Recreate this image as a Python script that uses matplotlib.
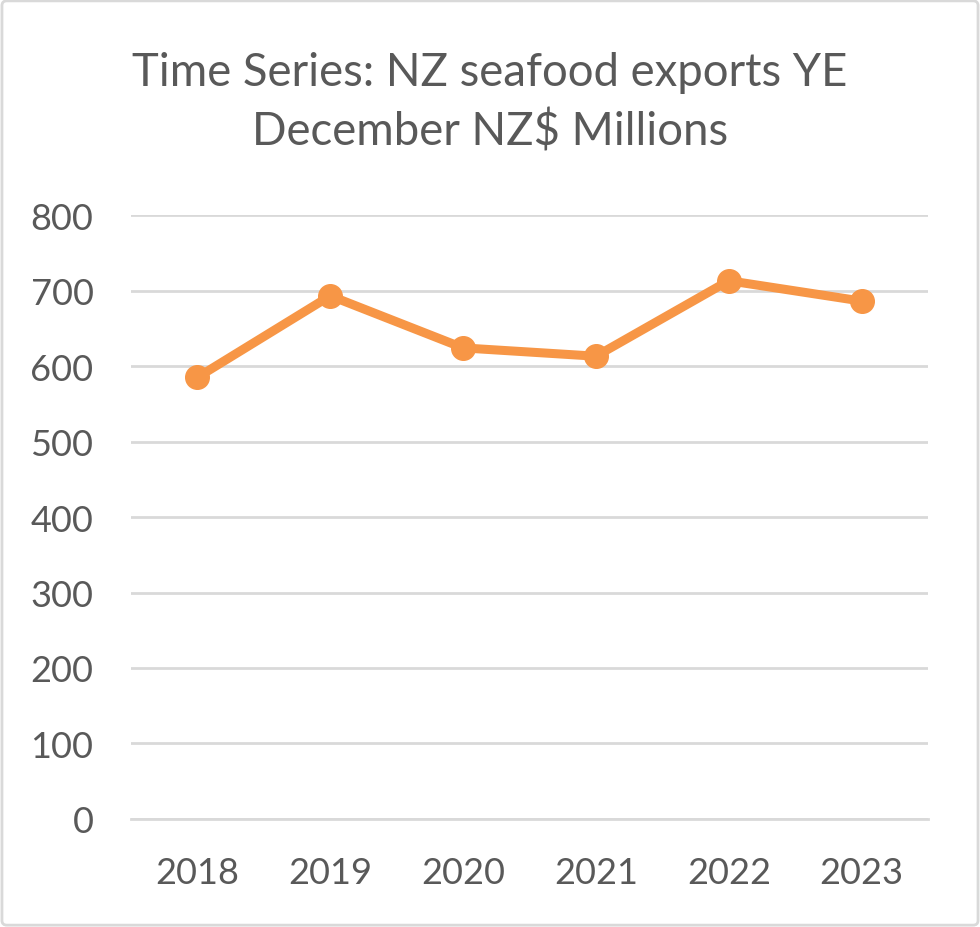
import matplotlib
matplotlib.use('Agg')
import matplotlib.pyplot as plt
from matplotlib.patches import FancyBboxPatch

# Datos del gráfico
years = ['2018', '2019', '2020', '2021', '2022', '2023']
exports = [585, 693, 624, 613, 713, 686]
y_ticks = [0, 100, 200, 300, 400, 500, 600, 700, 800]

plt.rcParams['font.family'] = ['Lato', 'DejaVu Sans']

gris_texto = '#595959'
gris_linea = '#d9d9d9'
naranja = '#f79646'

fig = plt.figure(figsize=(9.8, 9.28), dpi=100)
ax = fig.add_axes([0.1337, 0.1164, 0.947 - 0.1337, 0.7672 - 0.1164])

x = list(range(len(years)))
ax.plot(x, exports, color=naranja, linewidth=6.5, marker='o', markersize=17,
        solid_capstyle='round', solid_joinstyle='round', zorder=3)

ax.set_xlim(-0.5, len(years) - 0.5)
ax.set_ylim(0, 800)
ax.set_yticks(y_ticks)
ax.set_xticks(x)
ax.set_xticklabels(years)
ax.grid(axis='y', color=gris_linea, linewidth=2)
ax.set_axisbelow(True)

for side in ['top', 'right', 'left']:
    ax.spines[side].set_visible(False)
ax.spines['bottom'].set_color(gris_linea)
ax.spines['bottom'].set_linewidth(2)

ax.tick_params(axis='both', length=0, labelsize=26, colors=gris_texto)
ax.tick_params(axis='y', pad=27)
ax.tick_params(axis='x', pad=27)

fig.text(0.5, 0.889, 'Time Series: NZ seafood exports YE\nDecember NZ$ Millions',
         ha='center', va='center', fontsize=32.8, color=gris_texto, linespacing=1.42)

# Borde del gráfico
borde = FancyBboxPatch((0.002, 0.002), 0.996, 0.996, boxstyle='round,pad=0,rounding_size=0.005',
                       transform=fig.transFigure, fill=False, edgecolor=gris_linea, linewidth=2)
fig.patches.append(borde)

fig.savefig('out.png', dpi=100)
